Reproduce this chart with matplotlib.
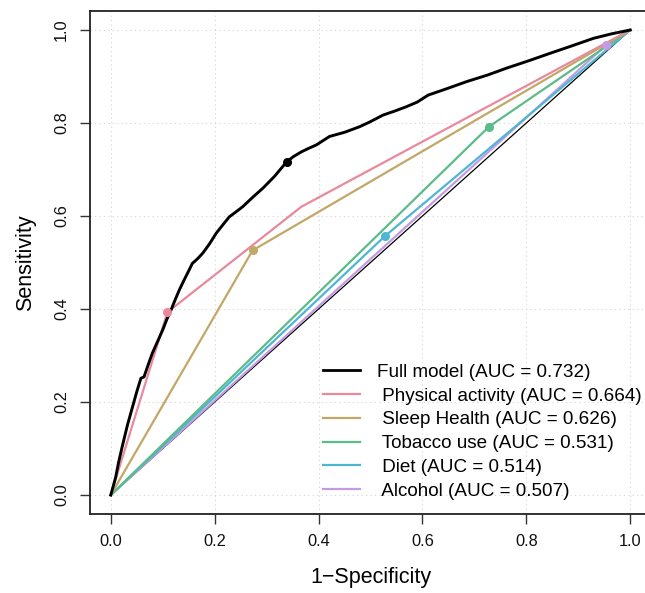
import matplotlib
matplotlib.use("Agg")
import matplotlib.pyplot as plt

plt.rcParams['font.family'] = ['Liberation Sans', 'DejaVu Sans']

# Full model ROC (1-specificity, sensitivity)
full_fpr = [0.0, 0.005, 0.0096, 0.015, 0.022, 0.032, 0.042, 0.050, 0.058, 0.064,
            0.072, 0.080, 0.090, 0.100, 0.108, 0.116, 0.124, 0.132, 0.141, 0.150,
            0.157, 0.167, 0.177, 0.190, 0.203, 0.215, 0.228, 0.240, 0.254, 0.273,
            0.293, 0.315, 0.339, 0.352, 0.367, 0.380, 0.396, 0.421, 0.450, 0.479,
            0.500, 0.524, 0.545, 0.569, 0.590, 0.611, 0.650, 0.685, 0.725, 0.762,
            0.805, 0.846, 0.888, 0.929, 0.965, 1.0]
full_tpr = [0.0, 0.020, 0.039, 0.070, 0.104, 0.150, 0.190, 0.222, 0.251, 0.254,
            0.280, 0.305, 0.330, 0.355, 0.378, 0.398, 0.420, 0.441, 0.462, 0.482,
            0.498, 0.508, 0.520, 0.540, 0.563, 0.580, 0.598, 0.608, 0.620, 0.640,
            0.660, 0.685, 0.717, 0.728, 0.738, 0.745, 0.753, 0.771, 0.780, 0.792,
            0.803, 0.817, 0.825, 0.835, 0.845, 0.860, 0.875, 0.889, 0.903, 0.918,
            0.934, 0.950, 0.966, 0.982, 0.992, 1.0]
full_best = (0.339, 0.717)

pa_fpr = [0.0, 0.109, 0.367, 1.0]
pa_tpr = [0.0, 0.393, 0.620, 1.0]
pa_best = (0.109, 0.393)

sleep_fpr = [0.0, 0.273, 1.0]
sleep_tpr = [0.0, 0.526, 1.0]
sleep_best = (0.273, 0.526)

tob_fpr = [0.0, 0.728, 1.0]
tob_tpr = [0.0, 0.792, 1.0]
tob_best = (0.728, 0.792)

diet_fpr = [0.0, 0.527, 1.0]
diet_tpr = [0.0, 0.556, 1.0]
diet_best = (0.527, 0.556)

alc_fpr = [0.0, 0.954, 1.0]
alc_tpr = [0.0, 0.968, 1.0]
alc_best = (0.954, 0.968)

labels = ["Full model (AUC = 0.732)", " Physical activity (AUC = 0.664)",
          " Sleep Health (AUC = 0.626)", " Tobacco use (AUC = 0.531)",
          " Diet (AUC = 0.514)", " Alcohol (AUC = 0.507)"]
colors = ["#000000", "#E8899C", "#C2A866", "#5CBB88", "#4DB6D3", "#C49BE3"]
ticks = [0.0, 0.2, 0.4, 0.6, 0.8, 1.0]
tick_labels = ["0.0", "0.2", "0.4", "0.6", "0.8", "1.0"]

fig = plt.figure(figsize=(6.45, 5.93), dpi=100)
W, H = 645, 593
L, R, T, B = 90, 651, 11.4, 513.6
ax = fig.add_axes([L / W, (H - B) / H, (R - L) / W, (B - T) / H])
ax.set_xlim(-0.04, 1.04)
ax.set_ylim(-0.04, 1.04)

ax.grid(True, color="#d3d3d3", linestyle=(0, (1, 3)), linewidth=0.8)
ax.set_axisbelow(True)

# chance line
ax.plot([0, 1], [0, 1], color="black", linewidth=0.9, zorder=2)

series = [(full_fpr, full_tpr, full_best), (pa_fpr, pa_tpr, pa_best),
          (sleep_fpr, sleep_tpr, sleep_best), (tob_fpr, tob_tpr, tob_best),
          (diet_fpr, diet_tpr, diet_best), (alc_fpr, alc_tpr, alc_best)]
order = [5, 4, 3, 2, 1, 0]
for i in order:
    fpr, tpr, best = series[i]
    lw = 2.1 if i == 0 else 1.6
    ax.plot(fpr, tpr, color=colors[i], linewidth=lw, zorder=3 + (6 - i) * 0.1,
            solid_joinstyle='round')
    ax.plot([best[0]], [best[1]], 'o', color=colors[i], markersize=6.5,
            markeredgewidth=0, zorder=4)
handles = [plt.Line2D([], [], color=c, linewidth=(2.0 if j == 0 else 1.6))
           for j, c in enumerate(colors)]

leg = ax.legend(handles, labels, loc="lower right", bbox_to_anchor=(1.0175, -0.01),
                frameon=False, fontsize=13.56, handlelength=1.97, handletextpad=0.9,
                labelspacing=0.35, borderaxespad=0.6)

ax.set_xticks(ticks)
ax.set_xticklabels(tick_labels)
ax.set_yticks(ticks)
ax.set_yticklabels(tick_labels, rotation=90, va="center")
ax.tick_params(axis="both", direction="out", length=7, width=1.0, color="#333333",
               labelsize=11.8, labelcolor="#111111")
ax.tick_params(axis="x", pad=8)
ax.tick_params(axis="y", pad=8)
for s in ax.spines.values():
    s.set_linewidth(1.3)
    s.set_color("#222222")

ax.set_xlabel("1\u2212Specificity", fontsize=15.5, labelpad=13)
ax.set_ylabel("Sensitivity", fontsize=15.5, labelpad=13)

fig.savefig("out.png", dpi=100)
